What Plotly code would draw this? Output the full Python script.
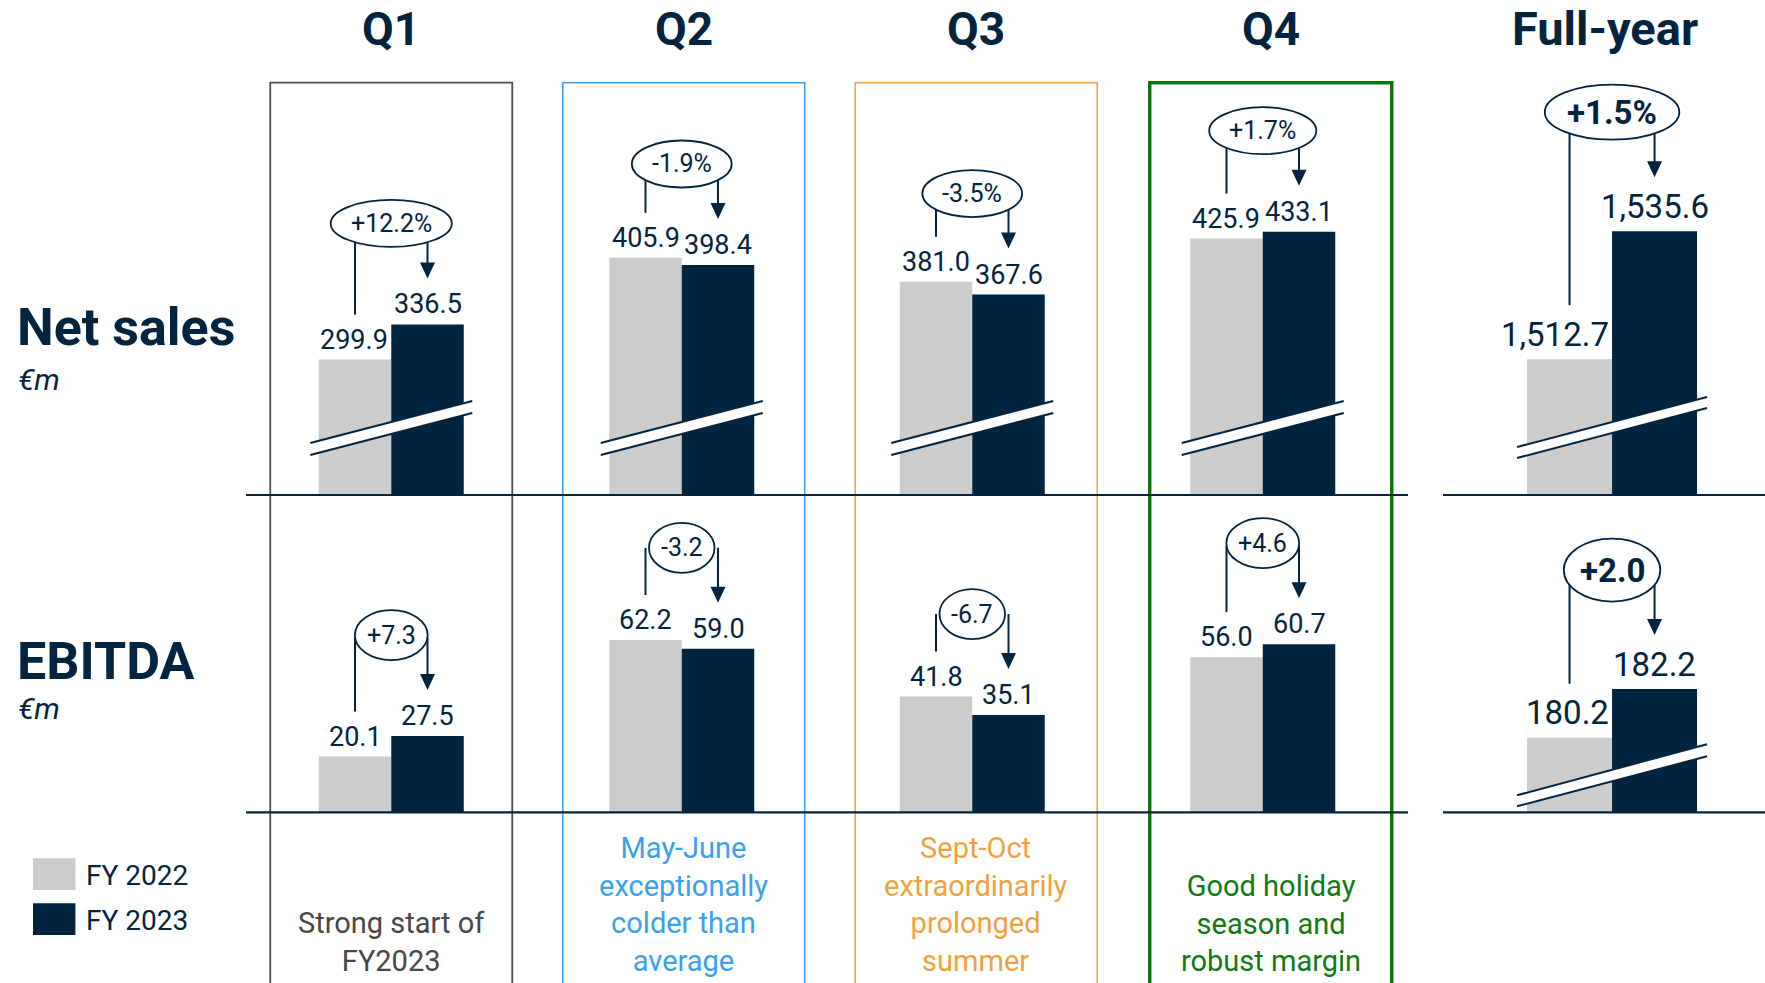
import math
import plotly.graph_objects as go

# ---------------------------------------------------------------- data
quarters = ["Q1", "Q2", "Q3", "Q4"]
full_year_title = "Full-year"
series_names = ["FY 2022", "FY 2023"]
row_titles = ["Net sales", "EBITDA"]
row_unit = "€m"

net_sales_2022 = [299.9, 405.9, 381.0, 425.9]
net_sales_2023 = [336.5, 398.4, 367.6, 433.1]
net_sales_change = ["+12.2%", "-1.9%", "-3.5%", "+1.7%"]

ebitda_2022 = [20.1, 62.2, 41.8, 56.0]
ebitda_2023 = [27.5, 59.0, 35.1, 60.7]
ebitda_change = ["+7.3", "-3.2", "-6.7", "+4.6"]

fy_net_sales = [1512.7, 1535.6]
fy_net_sales_change = "+1.5%"
fy_ebitda = [180.2, 182.2]
fy_ebitda_change = "+2.0"

quarter_notes = [
    "Strong start of<br>FY2023",
    "May-June<br>exceptionally<br>colder than<br>average",
    "Sept-Oct<br>extraordinarily<br>prolonged<br>summer",
    "Good holiday<br>season and<br>robust margin",
]

# ---------------------------------------------------------------- style
W, H = 1765, 983
FONT = "Roboto"
NAVY = "#03243f"
GREY = "#cccccc"
BOX_COLORS = ["#4d4d4d", "#3ea2f2", "#f2a33a", "#0b730b"]
BOX_WIDTHS = [1.8, 1.6, 1.6, 3.4]
BOX_NUDGE = [0, 2, 4, 8]          # px, frames sit slightly right of the bar pairs
NOTE_COLORS = ["#474747", "#3aa0f0", "#f0a23e", "#0f7a12"]

# pixel frame of the panels
Q_LEFT, Q_RIGHT = 246, 1408
FY_LEFT, FY_RIGHT = 1443, 1765
BASE_TOP = 495.0      # baseline of the net sales row
BASE_BOT = 812.3      # baseline of the EBITDA row
BOX_TOP = 82.7


def py(px):
    """page pixel row -> paper fraction"""
    return 1 - px / H


def px_x(px):
    return px / W


# approximate glyph advances (em) for sizing bubbles and labels
CHAR_EM = {"+": 0.57, "-": 0.28, ".": 0.26, ",": 0.22, "%": 0.73}


def text_px(s, size):
    return sum(CHAR_EM.get(c, 0.562) for c in s) * size


panels = {
    "ns_q": dict(x="x", y="y", lo=158.8, ppu=0.96, top=0.0, base=BASE_TOP,
                 xppu=(Q_RIGHT - Q_LEFT) / 4, bar_px=72.5, lab_size=27, lab_gap=20,
                 stem_gap=45, arrow_gap=46, ell_off=101, ell_pad=40, ell_h=47,
                 ell_size=25, ell_bold=False,
                 brk=dict(bx=81, l0=40, l1=82, u0=52, u1=94)),
    "eb_q": dict(x="x2", y="y2", lo=0.0, ppu=2.77, top=BASE_TOP, base=BASE_BOT,
                 xppu=(Q_RIGHT - Q_LEFT) / 4, bar_px=72.5, lab_size=27, lab_gap=20,
                 stem_gap=45, arrow_gap=46, ell_off=101, ell_pad=24, ell_h=50,
                 ell_size=25, ell_bold=False, brk=None),
    "ns_fy": dict(x="x3", y="y3", lo=1488.4, ppu=5.59, top=0.0, base=BASE_TOP,
                  xppu=(FY_RIGHT - FY_LEFT), bar_px=85, lab_size=33, lab_gap=25,
                  stem_gap=54, arrow_gap=54, ell_off=119, ell_pad=46, ell_h=55,
                  ell_size=33, ell_bold=True,
                  brk=dict(bx=95, l0=37, l1=87, u0=48, u1=98)),
    "eb_fy": dict(x="x4", y="y4", lo=177.14, ppu=24.35, top=BASE_TOP, base=BASE_BOT,
                  xppu=(FY_RIGHT - FY_LEFT), bar_px=85, lab_size=33, lab_gap=25,
                  stem_gap=54, arrow_gap=54, ell_off=119, ell_pad=32, ell_h=63,
                  ell_size=33, ell_bold=True,
                  brk=dict(bx=95, l0=6, l1=56, u0=17, u1=68)),
}

fig = go.Figure()
shapes = []
annotations = []


def ydata(p, h):
    """height above the panel baseline in pixels -> data value"""
    return p["lo"] + h / p["ppu"]


def hpx(p, v):
    return (v - p["lo"]) * p["ppu"]


def add_pairs(p, xs, prev, cur, changes):
    bw = p["bar_px"] / p["xppu"]
    fig.add_bar(x=xs, y=prev, width=bw, offset=-bw, marker=dict(color=GREY, line_width=0),
                name=series_names[0], xaxis=p["x"], yaxis=p["y"], showlegend=False,
                hoverinfo="skip")
    fig.add_bar(x=xs, y=cur, width=bw, offset=0, marker=dict(color=NAVY, line_width=0),
                name=series_names[1], xaxis=p["x"], yaxis=p["y"], showlegend=False,
                hoverinfo="skip")
    for xc, v0, v1, chg in zip(xs, prev, cur, changes):
        xg, xd = xc - bw / 2, xc + bw / 2
        # value labels; a wide FY2022 label is kept clear of a taller FY2023 bar
        for xx, v, is_prev in ((xg, v0, True), (xd, v1, False)):
            txt = f"{v:,.1f}"
            shift = 0
            if is_prev and v1 > v0:
                shift = min(0, p["bar_px"] / 2 - 3 - text_px(txt, p["lab_size"]) / 2)
            annotations.append(dict(x=xx, y=v, xref=p["x"], yref=p["y"], yshift=p["lab_gap"],
                                    xshift=shift, text=txt, showarrow=False, yanchor="middle",
                                    xanchor="center",
                                    font=dict(family=FONT, size=p["lab_size"], color=NAVY)))
        h0, h1 = hpx(p, v0), hpx(p, v1)
        cy = h1 + p["ell_off"]
        a = (text_px(chg, p["ell_size"]) + p["ell_pad"]) / 2
        b = p["ell_h"] / 2
        dx = p["bar_px"] / 2
        attach = cy - b * math.sqrt(1 - (dx / a) ** 2) if dx < a else cy
        # stem from the FY2022 value
        shapes.append(dict(type="line", xref=p["x"], yref=p["y"], x0=xg, x1=xg,
                           y0=ydata(p, h0 + p["stem_gap"]), y1=ydata(p, attach),
                           line=dict(color=NAVY, width=2)))
        # arrow shaft down to the FY2023 value
        tip = h1 + p["arrow_gap"]
        shapes.append(dict(type="line", xref=p["x"], yref=p["y"], x0=xd, x1=xd,
                           y0=ydata(p, tip + 12), y1=ydata(p, attach),
                           line=dict(color=NAVY, width=2)))
        shapes.append(dict(type="path", xref=p["x"], yref=p["y"], xsizemode="pixel",
                           ysizemode="pixel", xanchor=xd, yanchor=ydata(p, tip),
                           path="M -7.5,16 L 7.5,16 L 0,0 Z", fillcolor=NAVY,
                           line=dict(width=0)))
        # change bubble
        shapes.append(dict(type="circle", xref=p["x"], yref=p["y"], xsizemode="pixel",
                           ysizemode="pixel", xanchor=xc, yanchor=ydata(p, cy),
                           x0=-a, x1=a, y0=-b, y1=b, fillcolor="white",
                           line=dict(color=NAVY, width=1.8)))
        txt = f"<b>{chg}</b>" if p["ell_bold"] else chg
        annotations.append(dict(x=xc, y=ydata(p, cy), xref=p["x"], yref=p["y"], text=txt,
                                showarrow=False, yanchor="middle", xanchor="center",
                                font=dict(family=FONT, size=p["ell_size"], color=NAVY)))
        # axis break marks
        k = p["brk"]
        if k:
            shapes.append(dict(type="path", xref=p["x"], yref=p["y"], xsizemode="pixel",
                               ysizemode="pixel", xanchor=xc, yanchor=p["lo"],
                               path=f"M {-k['bx']},{k['l0']} L {k['bx']},{k['l1']} "
                                    f"L {k['bx']},{k['u1']} L {-k['bx']},{k['u0']} Z",
                               fillcolor="white", line=dict(width=0)))
            for y0, y1 in ((k["l0"], k["l1"]), (k["u0"], k["u1"])):
                shapes.append(dict(type="line", xref=p["x"], yref=p["y"], xsizemode="pixel",
                                   ysizemode="pixel", xanchor=xc, yanchor=p["lo"],
                                   x0=-k["bx"], x1=k["bx"], y0=y0, y1=y1,
                                   line=dict(color=NAVY, width=2)))
    # baseline
    shapes.append(dict(type="line", xref=f"{p['x']} domain", yref=f"{p['y']} domain",
                       x0=0, x1=1, y0=0, y1=0, line=dict(color=NAVY, width=2.2)))


q_idx = list(range(len(quarters)))
add_pairs(panels["ns_q"], q_idx, net_sales_2022, net_sales_2023, net_sales_change)
add_pairs(panels["eb_q"], q_idx, ebitda_2022, ebitda_2023, ebitda_change)
add_pairs(panels["ns_fy"], [0], [fy_net_sales[0]], [fy_net_sales[1]], [fy_net_sales_change])
add_pairs(panels["eb_fy"], [0], [fy_ebitda[0]], [fy_ebitda[1]], [fy_ebitda_change])

# quarter frames, headers and notes
for i, q in enumerate(quarters):
    nudge = BOX_NUDGE[i]
    shapes.append(dict(type="rect", xref="x", yref="paper", xsizemode="pixel", xanchor=i,
                       x0=-121 + nudge, x1=121 + nudge, y0=-0.05, y1=py(BOX_TOP),
                       layer="below",
                       line=dict(color=BOX_COLORS[i], width=BOX_WIDTHS[i])))
    annotations.append(dict(x=i, y=py(28.7), xref="x", yref="paper", text=f"<b>{q}</b>",
                            showarrow=False, yanchor="middle", xanchor="center", xshift=nudge,
                            font=dict(family=FONT, size=46, color=NAVY)))
    annotations.append(dict(x=i, y=py(980), xref="x", yref="paper", text=quarter_notes[i],
                            showarrow=False, yanchor="bottom", xanchor="center",
                            align="center", xshift=nudge,
                            font=dict(family=FONT, size=29, color=NOTE_COLORS[i])))

annotations.append(dict(x=px_x(1605), y=py(28.7), xref="paper", yref="paper",
                        text=f"<b>{full_year_title}</b>", showarrow=False,
                        xanchor="center", yanchor="middle",
                        font=dict(family=FONT, size=47, color=NAVY)))

# row titles
for title, ty, uy in ((row_titles[0], 327.5, 379), (row_titles[1], 661, 708)):
    annotations.append(dict(x=px_x(15), y=py(ty), xref="paper", yref="paper", xanchor="left",
                            yanchor="middle", text=f"<b>{title}</b>", showarrow=False,
                            font=dict(family=FONT, size=52, color=NAVY)))
    annotations.append(dict(x=px_x(16), y=py(uy), xref="paper", yref="paper", xanchor="left",
                            yanchor="middle", text=f"<i>{row_unit}</i>", showarrow=False,
                            font=dict(family=FONT, size=30, color=NAVY)))

# legend
for name, color, (y0, y1) in zip(series_names, (GREY, NAVY), ((858.3, 890), (903.3, 935))):
    shapes.append(dict(type="rect", xref="paper", yref="paper", x0=px_x(33), x1=px_x(75.4),
                       y0=py(y1), y1=py(y0), fillcolor=color, line=dict(width=0)))
    annotations.append(dict(x=px_x(84), y=py((y0 + y1) / 2 + 1), xref="paper", yref="paper",
                            xanchor="left", yanchor="middle", text=name, showarrow=False,
                            font=dict(family=FONT, size=28, color=NAVY)))


def yrange(p):
    return [p["lo"], p["lo"] + (p["base"] - p["top"]) / p["ppu"]]


def ydom(p):
    return [py(p["base"]), py(p["top"])]


q_dom = [px_x(Q_LEFT), px_x(Q_RIGHT)]
fy_dom = [px_x(FY_LEFT), 1.0]
hidden = dict(visible=False, fixedrange=True)

fig.update_layout(
    width=W, height=H,
    margin=dict(l=0, r=0, t=0, b=0),
    paper_bgcolor="white", plot_bgcolor="rgba(0,0,0,0)",
    barmode="overlay", showlegend=False,
    font=dict(family=FONT, color=NAVY),
    xaxis=dict(domain=q_dom, range=[-0.5, 3.5], anchor="y", **hidden),
    xaxis2=dict(domain=q_dom, range=[-0.5, 3.5], anchor="y2", **hidden),
    xaxis3=dict(domain=fy_dom, range=[-0.525, 0.475], anchor="y3", **hidden),
    xaxis4=dict(domain=fy_dom, range=[-0.525, 0.475], anchor="y4", **hidden),
    yaxis=dict(domain=ydom(panels["ns_q"]), range=yrange(panels["ns_q"]), anchor="x", **hidden),
    yaxis2=dict(domain=ydom(panels["eb_q"]), range=yrange(panels["eb_q"]), anchor="x2", **hidden),
    yaxis3=dict(domain=ydom(panels["ns_fy"]), range=yrange(panels["ns_fy"]), anchor="x3", **hidden),
    yaxis4=dict(domain=ydom(panels["eb_fy"]), range=yrange(panels["eb_fy"]), anchor="x4", **hidden),
    shapes=shapes,
    annotations=annotations,
)

fig.write_html("out.html")
